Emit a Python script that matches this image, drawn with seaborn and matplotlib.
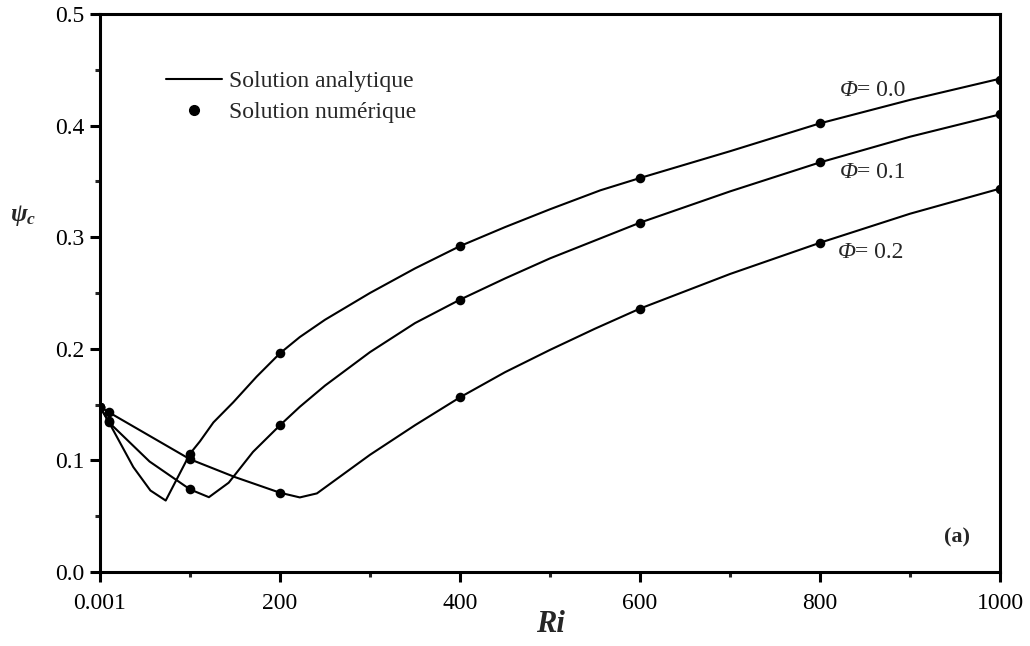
import numpy as np
import pandas as pd
import matplotlib
matplotlib.use("Agg")
import matplotlib.pyplot as plt
from matplotlib.lines import Line2D
from matplotlib.ticker import MultipleLocator, FixedLocator, FixedFormatter
import seaborn as sns

# ---- analytic solution (Ri, psi_c) for each volume fraction ----
phi_levels = ["0.0", "0.1", "0.2"]

ana_ri_00 = [0.001, 10, 37, 56, 73, 100, 111, 126, 148, 174, 200, 222, 250, 300,
             350, 400, 450, 500, 556, 600, 700, 800, 900, 1000]
ana_psi_00 = [0.148, 0.134, 0.094, 0.073, 0.064, 0.106, 0.117, 0.134, 0.152, 0.175,
              0.196, 0.2105, 0.226, 0.250, 0.272, 0.292, 0.309, 0.325, 0.342, 0.353,
              0.377, 0.402, 0.423, 0.442]

ana_ri_01 = [0.001, 10, 55, 100, 121, 143, 170, 200, 222, 250, 300, 350, 400, 450,
             500, 600, 700, 800, 900, 1000]
ana_psi_01 = [0.148, 0.134, 0.099, 0.074, 0.067, 0.080, 0.1076, 0.1315, 0.148, 0.167,
              0.197, 0.223, 0.244, 0.263, 0.281, 0.313, 0.341, 0.367, 0.390, 0.410]

ana_ri_02 = [0.001, 10, 55, 100, 150, 200, 222, 241, 300, 350, 400, 450, 500, 550,
             600, 700, 800, 900, 1000]
ana_psi_02 = [0.148, 0.143, 0.122, 0.101, 0.085, 0.071, 0.0668, 0.0704, 0.105, 0.1315,
              0.1565, 0.179, 0.199, 0.218, 0.236, 0.267, 0.295, 0.321, 0.3435]

# ---- numerical solution ----
num_ri = [0.001, 10, 100, 200, 400, 600, 800, 1000]
num_psi_00 = [0.148, 0.134, 0.106, 0.196, 0.292, 0.353, 0.402, 0.441]
num_psi_01 = [0.148, 0.135, 0.074, 0.1315, 0.244, 0.313, 0.367, 0.410]
num_psi_02 = [0.148, 0.143, 0.101, 0.071, 0.1565, 0.236, 0.295, 0.3435]

# ---- axis ticks ----
x_major = [0, 200, 400, 600, 800, 1000]
x_major_labels = ["0.001", "200", "400", "600", "800", "1000"]
y_major = [0.0, 0.1, 0.2, 0.3, 0.4, 0.5]
y_major_labels = ["0.0", "0.1", "0.2", "0.3", "0.4", "0.5"]

ana = pd.concat([
    pd.DataFrame({"Ri": ana_ri_00, "psi": ana_psi_00, "phi": "0.0"}),
    pd.DataFrame({"Ri": ana_ri_01, "psi": ana_psi_01, "phi": "0.1"}),
    pd.DataFrame({"Ri": ana_ri_02, "psi": ana_psi_02, "phi": "0.2"}),
], ignore_index=True)
num = pd.concat([
    pd.DataFrame({"Ri": num_ri, "psi": num_psi_00, "phi": "0.0"}),
    pd.DataFrame({"Ri": num_ri, "psi": num_psi_01, "phi": "0.1"}),
    pd.DataFrame({"Ri": num_ri, "psi": num_psi_02, "phi": "0.2"}),
], ignore_index=True)

sns.set_style("ticks")
plt.rcParams["font.family"] = ["Liberation Serif", "DejaVu Serif"]
plt.rcParams["mathtext.fontset"] = "custom"
plt.rcParams["mathtext.rm"] = "Liberation Serif"
plt.rcParams["mathtext.it"] = "Liberation Serif:italic"
plt.rcParams["mathtext.bf"] = "Liberation Serif:bold"
plt.rcParams["mathtext.bfit"] = "Liberation Serif:italic:bold"

fig = plt.figure(figsize=(10.3, 6.46), dpi=100)
ax = fig.add_axes([0.0971, 0.1146, 0.8738, 0.8638])

sns.lineplot(data=ana, x="Ri", y="psi", units="phi", estimator=None, sort=False,
             color="black", linewidth=1.5, legend=False, ax=ax)
sns.scatterplot(data=num, x="Ri", y="psi", color="black", s=48, edgecolor="black",
                linewidth=0, legend=False, ax=ax, zorder=3)

ax.set_xlim(0, 1000)
ax.set_ylim(0, 0.5)
ax.xaxis.set_major_locator(FixedLocator(x_major))
ax.xaxis.set_major_formatter(FixedFormatter(x_major_labels))
ax.xaxis.set_minor_locator(MultipleLocator(100))
ax.yaxis.set_major_locator(FixedLocator(y_major))
ax.yaxis.set_major_formatter(FixedFormatter(y_major_labels))
ax.yaxis.set_minor_locator(MultipleLocator(0.05))

for sp in ax.spines.values():
    sp.set_visible(True)
    sp.set_linewidth(2.2)
    sp.set_color("black")

ax.tick_params(axis="both", which="major", direction="out", length=7, width=2.2,
               labelsize=17, colors="black")
ax.tick_params(axis="both", which="minor", direction="out", length=3.5, width=2.2)
ax.tick_params(axis="x", which="major", pad=8)
ax.tick_params(axis="y", which="major", pad=4)

ax.set_xlabel("Ri", fontsize=22, fontweight="bold", fontstyle="italic")
ax.xaxis.set_label_coords(0.5, -0.095)
ax.xaxis.label.set_va("center")
ax.set_ylabel(r"$\mathbfit{ψ}_{\mathbfit{c}}$", fontsize=18, rotation=0)
ax.yaxis.set_label_coords(-0.085, 0.638)
ax.yaxis.label.set_va("center")

# curve labels: italic Phi followed by the upright value
label_pos = {"0.0": (822, 0.431), "0.1": (822, 0.358), "0.2": (820, 0.286)}
for phi in phi_levels:
    x, y = label_pos[phi]
    ax.text(x, y, "Φ", fontsize=17, fontstyle="italic", ha="left", va="center")
    ax.annotate("= " + phi, xy=(x, y), xytext=(12.5, 0), textcoords="offset points",
                fontsize=17, ha="left", va="center")

ax.text(0.952, 0.061, "(a)", transform=ax.transAxes, fontsize=16,
        fontweight="bold", ha="center", va="center")

handles = [
    Line2D([], [], color="black", linewidth=1.5),
    Line2D([], [], color="black", linestyle="none", marker="o", markersize=7),
]
ax.legend(handles, ["Solution analytique", "Solution numérique"], loc="upper left",
          bbox_to_anchor=(0.0733, 0.898), frameon=False, fontsize=17,
          handlelength=2.37, handletextpad=0.3, labelspacing=0.38,
          borderpad=0, borderaxespad=0)

fig.savefig("out.png", dpi=100, facecolor="white")
